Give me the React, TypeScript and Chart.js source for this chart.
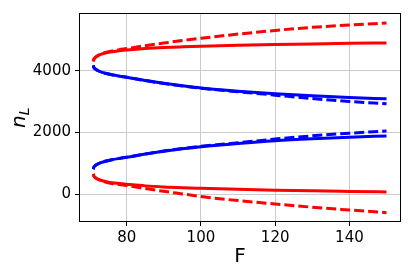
import React, { useEffect, useRef } from "react";
import { Chart, registerables } from "chart.js";

Chart.register(...registerables);

const F = [71.0, 71.15, 71.5, 72.2, 73, 74.5, 76, 78, 80, 85, 90, 95, 100, 110, 120, 130, 140, 150];

const redSolidUpper = [4310, 4375, 4430, 4490, 4535, 4590, 4625, 4655, 4680, 4728, 4760, 4782, 4800, 4830, 4855, 4877, 4895, 4908];
const redDashedUpper = [4310, 4377, 4434, 4497, 4545, 4608, 4650, 4690, 4725, 4820, 4905, 4985, 5060, 5195, 5315, 5415, 5490, 5556];
const redSolidLower = [660, 595, 545, 495, 455, 410, 375, 348, 325, 272, 235, 210, 192, 160, 132, 110, 92, 75];
const redDashedLower = [660, 593, 540, 485, 440, 390, 350, 312, 280, 185, 95, 10, -75, -205, -315, -420, -510, -597];
const blueSolidUpper = [4180, 4115, 4065, 4015, 3970, 3915, 3875, 3832, 3795, 3690, 3600, 3520, 3448, 3345, 3263, 3192, 3138, 3095];
const blueDashedUpper = [4180, 4115, 4065, 4015, 3970, 3915, 3875, 3832, 3795, 3688, 3596, 3514, 3440, 3325, 3215, 3105, 3010, 2939];
const blueSolidLower = [811, 876, 928, 980, 1025, 1080, 1120, 1162, 1200, 1305, 1395, 1475, 1544, 1650, 1737, 1800, 1850, 1891];
const blueDashedLower = [811, 876, 928, 980, 1025, 1080, 1120, 1162, 1200, 1307, 1400, 1482, 1555, 1670, 1790, 1895, 1980, 2053];

const xTicks = [80, 100, 120, 140];
const yTicks = [0, 2000, 4000];
const xLabel = "F";
const yLabelMain = "n";
const yLabelSub = "L";

const RED = "#ff0000";
const BLUE = "#0000ff";
const FONT = "'DejaVu Sans', sans-serif";

function pts(ys: number[]) {
  return F.map((x, i) => ({ x, y: ys[i] }));
}

function ds(ys: number[], color: string, dashed: boolean) {
  return {
    data: pts(ys),
    borderColor: color,
    backgroundColor: color,
    borderWidth: 3,
    borderDash: dashed ? [10, 4] : [],
    borderCapStyle: "butt" as const,
    borderJoinStyle: "round" as const,
    pointRadius: 0,
    showLine: true,
    fill: false,
    cubicInterpolationMode: "monotone" as const,
  };
}

const framePlugin = {
  id: "frameAndTitles",
  afterDraw(chart: any) {
    const { ctx, chartArea } = chart;
    const { left, right, top, bottom } = chartArea;
    ctx.save();
    ctx.strokeStyle = "#000";
    ctx.lineWidth = 1;
    ctx.strokeRect(Math.round(left) + 0.5, Math.round(top) + 0.5, Math.round(right - left) - 1, Math.round(bottom - top) - 1);

    ctx.fillStyle = "#000";
    ctx.font = `20px ${FONT}`;
    ctx.textAlign = "center";
    ctx.textBaseline = "middle";
    ctx.fillText(xLabel, (left + right) / 2, 257);

    ctx.translate(25, 128);
    ctx.rotate(-Math.PI / 2);
    ctx.textAlign = "left";
    ctx.textBaseline = "alphabetic";
    ctx.font = `italic 20px ${FONT}`;
    ctx.fillText(yLabelMain, 0, 0);
    const w = ctx.measureText(yLabelMain).width;
    ctx.font = `italic 14px ${FONT}`;
    ctx.fillText(yLabelSub, w, 4);
    ctx.restore();
  },
};

export default function App() {
  const ref = useRef<HTMLCanvasElement | null>(null);

  useEffect(() => {
    document.body.style.margin = "0";
    const canvas = ref.current!;
    const chart = new Chart(canvas, {
      type: "scatter",
      data: {
        datasets: [
          ds(blueDashedUpper, BLUE, true),
          ds(blueDashedLower, BLUE, true),
          ds(redDashedUpper, RED, true),
          ds(redDashedLower, RED, true),
          ds(blueSolidUpper, BLUE, false),
          ds(blueSolidLower, BLUE, false),
          ds(redSolidUpper, RED, false),
          ds(redSolidLower, RED, false),
        ] as any,
      },
      options: {
        animation: false,
        responsive: false,
        devicePixelRatio: 1,
        layout: { padding: { top: 13, right: 14, left: 0, bottom: 0 } },
        plugins: { legend: { display: false }, tooltip: { enabled: false } },
        scales: {
          x: {
            type: "linear",
            min: 67.15,
            max: 153.9,
            afterFit: (s: any) => {
              s.height = 55;
            },
            afterBuildTicks: (s: any) => {
              s.ticks = xTicks.map((v) => ({ value: v }));
            },
            grid: {
              color: "#cccccc",
              lineWidth: 1,
              tickColor: "#000",
              tickLength: 4,
              drawTicks: true,
            },
            border: { display: false },
            ticks: {
              color: "#000",
              font: { family: FONT, size: 15 },
              padding: 3,
              maxRotation: 0,
              autoSkip: false,
            },
          },
          y: {
            type: "linear",
            min: -900,
            max: 5880,
            afterFit: (s: any) => {
              s.width = 79;
            },
            afterBuildTicks: (s: any) => {
              s.ticks = yTicks.map((v) => ({ value: v }));
            },
            grid: {
              color: "#cccccc",
              lineWidth: 1,
              tickColor: "#000",
              tickLength: 4,
              drawTicks: true,
            },
            border: { display: false },
            ticks: {
              color: "#000",
              font: { family: FONT, size: 15 },
              padding: 4,
              autoSkip: false,
              callback: (v: any) => String(v),
            },
          },
        },
      },
      plugins: [framePlugin],
    });
    return () => chart.destroy();
  }, []);

  return (
    <div style={{ position: "fixed", left: 0, top: 0, width: 415, height: 277, background: "#fff" }}>
      <canvas ref={ref} width={415} height={277} style={{ width: 415, height: 277, display: "block" }} />
    </div>
  );
}
